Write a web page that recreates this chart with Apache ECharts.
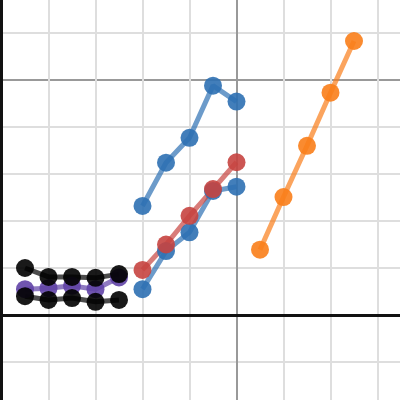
<!DOCTYPE html>
<html>
<head>
<meta charset="utf-8">
<style>
  html, body { margin: 0; padding: 0; background: #fff; }
  #chart { width: 400px; height: 400px; }
</style>
<script src="https://cdn.jsdelivr.net/npm/echarts@6/dist/echarts.min.js"></script>
</head>
<body>
<div id="chart"></div>
<script>
// x positions of the three groups of points
var xsLeft = [0.5, 1, 1.5, 2, 2.5]
var xsMid = [3, 3.5, 4, 4.5, 5]
var xsRight = [5.5, 6, 6.5, 7, 7.5]

// y values
var blackTop = [1.0, 0.81, 0.81, 0.79, 0.87]
var blackBottom = [0.40, 0.32, 0.36, 0.28, 0.32]
var purple = [0.55, 0.57, 0.62, 0.55, 0.8]
var blueUpper = [2.32, 3.24, 3.77, 4.88, 4.54]
var blueLower = [0.55, 1.36, 1.76, 2.64, 2.73]
var red = [0.96, 1.5, 2.11, 2.68, 3.25]
var orange = [1.39, 2.51, 3.6, 4.73, 5.83]

function pairs (xs, ys) {
  return xs.map(function (x, i) { return [x, ys[i]] })
}

function makeSeries (name, color, xs, ys) {
  return {
    name: name,
    type: 'line',
    data: pairs(xs, ys),
    symbol: 'circle',
    symbolSize: 18,
    lineStyle: { color: color, width: 5, opacity: 0.7 },
    itemStyle: { color: color, opacity: 0.9 },
    emphasis: { disabled: true },
    animation: false
  }
}

var LIGHT = '#dedede'
var MAJOR = '#999999'
var NONE = 'rgba(0,0,0,0)'
// ticks -1..9
var xLineColors = [LIGHT, NONE, LIGHT, LIGHT, LIGHT, LIGHT, MAJOR, LIGHT, LIGHT, LIGHT, LIGHT]
// ticks -2..7
var yLineColors = [LIGHT, LIGHT, NONE, LIGHT, LIGHT, LIGHT, LIGHT, MAJOR, LIGHT, LIGHT]

var U = 47 // pixels per unit
var X0 = 1.5 // pixel of x = 0
var Y0 = 315 // pixel of y = 0

var chart = echarts.init(document.getElementById('chart'), null, { renderer: 'canvas' })
chart.setOption({
  backgroundColor: '#ffffff',
  animation: false,
  grid: {
    left: X0 - U,
    right: 400 - (X0 + 9 * U),
    top: Y0 - 7 * U,
    bottom: 400 - (Y0 + 2 * U),
    outerBoundsMode: 'none',
    containLabel: false
  },
  xAxis: {
    type: 'value',
    min: -1,
    max: 9,
    interval: 1,
    axisLine: { show: true, onZero: true, lineStyle: { color: '#111', width: 3 } },
    axisTick: { show: false },
    axisLabel: { show: false },
    splitLine: { show: true, lineStyle: { color: xLineColors, width: 2 } }
  },
  yAxis: {
    type: 'value',
    min: -2,
    max: 7,
    interval: 1,
    axisLine: { show: true, onZero: true, lineStyle: { color: '#111', width: 3 } },
    axisTick: { show: false },
    axisLabel: { show: false },
    splitLine: { show: true, lineStyle: { color: yLineColors, width: 2 } }
  },
  series: [
    makeSeries('blueUpper', '#2d70b3', xsMid, blueUpper),
    makeSeries('blueLower', '#2d70b3', xsMid, blueLower),
    makeSeries('red', '#c74440', xsMid, red),
    makeSeries('purple', '#6042a6', xsLeft, purple),
    makeSeries('blackTop', '#000000', xsLeft, blackTop),
    makeSeries('blackBottom', '#000000', xsLeft, blackBottom),
    makeSeries('orange', '#fa7e19', xsRight, orange)
  ]
})
</script>
</body>
</html>
